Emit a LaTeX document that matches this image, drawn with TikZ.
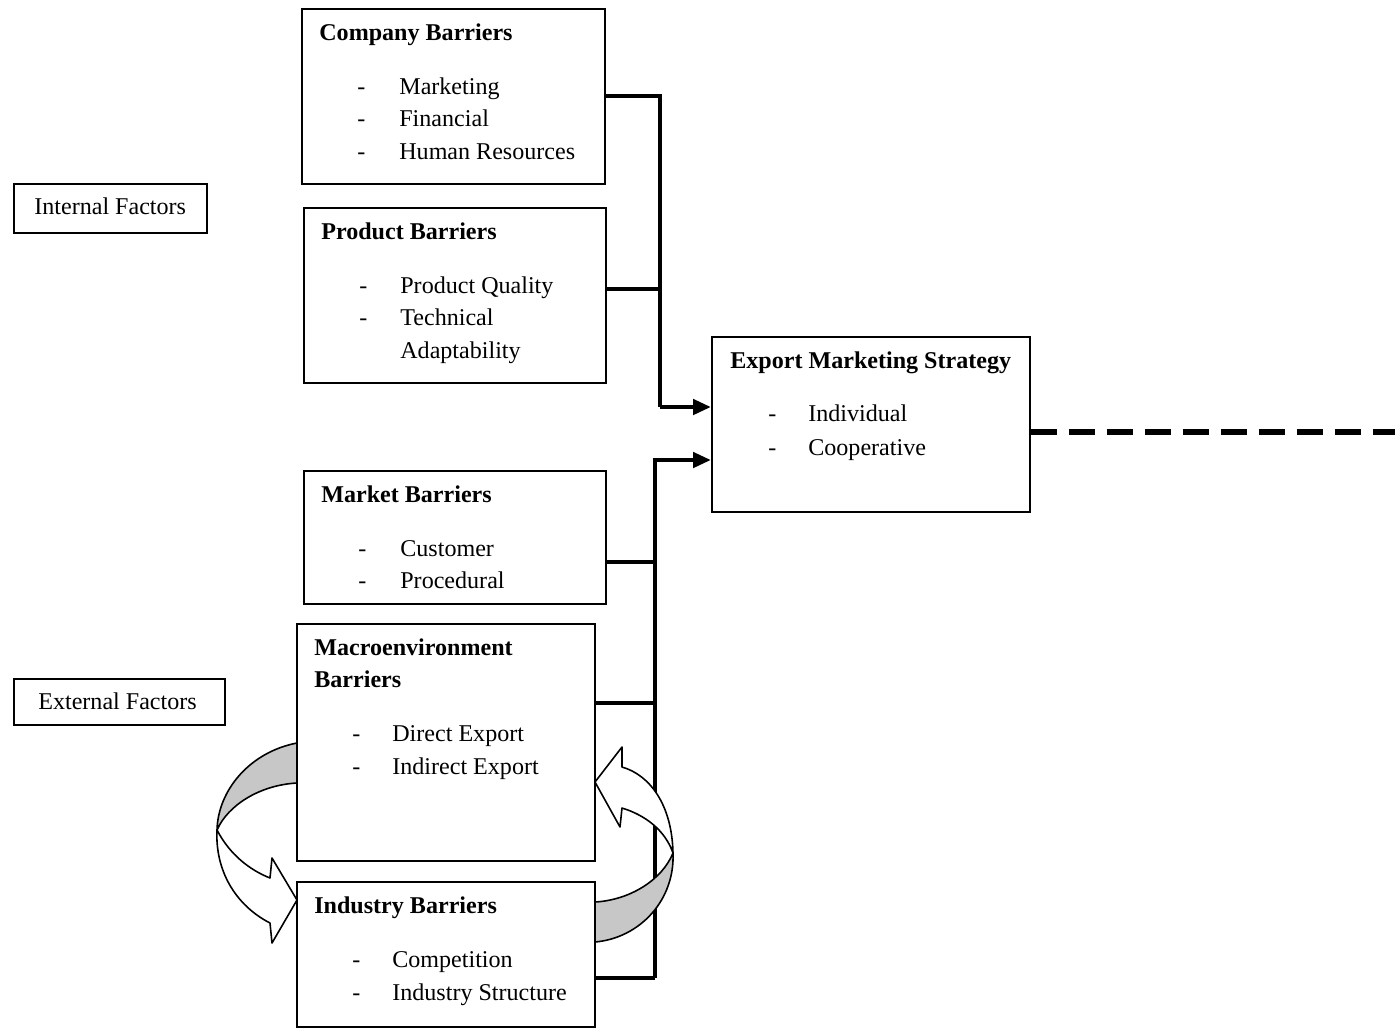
\documentclass[tikz,border=0pt]{standalone}
\usepackage{fontspec}
\setmainfont{Liberation Serif}
\usetikzlibrary{arrows.meta,fit}
\begin{document}
\begin{tikzpicture}[x=0.02cm,y=-0.02cm,
  box/.style={draw, line width=1.1pt, inner sep=0pt},
  txt/.style={anchor=base west, inner sep=0pt, font=\fontsize{13.7}{16}\selectfont},
  ttl/.style={txt, font=\fontsize{13.7}{16}\selectfont\bfseries},
  conn/.style={line width=2.7pt},
  arr/.style={conn, -{Triangle[length=0.36cm,width=0.3cm]}},
  curvearr/.style={draw, line width=0.9pt, line join=round},
]
\useasboundingbox (0,0) rectangle (1395,1029);
% boxes
\node[box, fit={(302,9) (605,184)}] (company) {};
\node[box, fit={(304,208) (606,383)}] (product) {};
\node[box, fit={(14,184) (207,233)}] (internal) {};
\node[box, fit={(712,337) (1030,512)}] (export) {};
\node[box, fit={(304,471) (606,604)}] (market) {};
\node[box, fit={(297,624) (595,861)}] (macro) {};
\node[box, fit={(14,679) (225,725)}] (external) {};
\node[box, fit={(297,882) (595,1027)}] (industry) {};
% texts
\node[ttl] (t1) at (319,40) {Company Barriers};
\node[txt] (t1a) at (357,94) {-};
\node[txt] (t1b) at (399,94) {Marketing};
\node[txt] (t1c) at (357,126) {-};
\node[txt] (t1d) at (399,126) {Financial};
\node[txt] (t1e) at (357,159) {-};
\node[txt] (t1f) at (399,159) {Human Resources};
\node[txt] (t0) at (34,214) {Internal Factors};
\node[ttl] (t2) at (321,239) {Product Barriers};
\node[txt] (t2a) at (359,293) {-};
\node[txt] (t2b) at (400,293) {Product Quality};
\node[txt] (t2c) at (359,325) {-};
\node[txt] (t2d) at (400,325) {Technical};
\node[txt] (t2e) at (400,358) {Adaptability};
\node[ttl] (t3) at (730,368) {Export Marketing Strategy};
\node[txt] (t3a) at (768,421) {-};
\node[txt] (t3b) at (808,421) {Individual};
\node[txt] (t3c) at (768,455) {-};
\node[txt] (t3d) at (808,455) {Cooperative};
\node[ttl] (t4) at (321,502) {Market Barriers};
\node[txt] (t4a) at (358,556) {-};
\node[txt] (t4b) at (400,556) {Customer};
\node[txt] (t4c) at (358,588) {-};
\node[txt] (t4d) at (400,588) {Procedural};
\node[ttl] (t5) at (314,655) {Macroenvironment};
\node[ttl] (t5x) at (314,687) {Barriers};
\node[txt] (t5a) at (352,741) {-};
\node[txt] (t5b) at (392,741) {Direct Export};
\node[txt] (t5c) at (352,774) {-};
\node[txt] (t5d) at (392,774) {Indirect Export};
\node[txt] (t6) at (38,709) {External Factors};
\node[ttl] (t7) at (314,913) {Industry Barriers};
\node[txt] (t7a) at (352,967) {-};
\node[txt] (t7b) at (392,967) {Competition};
\node[txt] (t7c) at (352,1000) {-};
\node[txt] (t7d) at (392,1000) {Industry Structure};
% internal bus
\coordinate (b1) at (660,96);
\coordinate (b2) at (660,289);
\coordinate (b3) at (660,407);
\draw[conn] (company.east |- b1) -- (b1) -- (b3);
\draw[conn] (product.east |- b2) -- (b2);
\draw[arr] (b3) -- (export.west |- b3);
% external bus
\coordinate (c0) at (655,460);
\coordinate (c1) at (655,562);
\coordinate (c2) at (655,703);
\coordinate (c3) at (655,978);
\draw[conn] (c3) -- (c0);
\draw[arr] ([xshift=-1.35pt]c0) -- (export.west |- c0);
\draw[conn] (market.east |- c1) -- (c1);
\draw[conn] (macro.east |- c2) -- (c2);
\draw[conn] (industry.east |- c3) -- (c3);
% dashed output
\coordinate (dashend) at (1395,432);
\draw[line width=3pt, dash pattern=on 0.52cm off 0.24cm] (export.east |- dashend) -- (dashend);
% left curved arrow (macro -> industry)
\path[curvearr, fill=black!22] (297,743) .. controls (250,752) and (218,790) .. (217,830)
  .. controls (228,805) and (260,785) .. (297,783) -- cycle;
\path[curvearr, fill=white] (217,830) .. controls (230,855) and (250,870) .. (270,878)
  -- (272,858) -- (297,900) -- (272,943) -- (270,923)
  .. controls (235,905) and (215,870) .. (217,830) -- cycle;
% right curved arrow (industry -> macro)
\path[curvearr, fill=black!22] (673,853) .. controls (675,900) and (640,938) .. (595,942)
  -- (595,902) .. controls (630,900) and (662,880) .. (673,853) -- cycle;
\path[curvearr, fill=white] (673,853) .. controls (672,805) and (650,775) .. (622,767)
  -- (622,747) -- (595,782) -- (620,827) -- (622,808)
  .. controls (645,815) and (665,830) .. (673,853) -- cycle;
\end{tikzpicture}
\end{document}
